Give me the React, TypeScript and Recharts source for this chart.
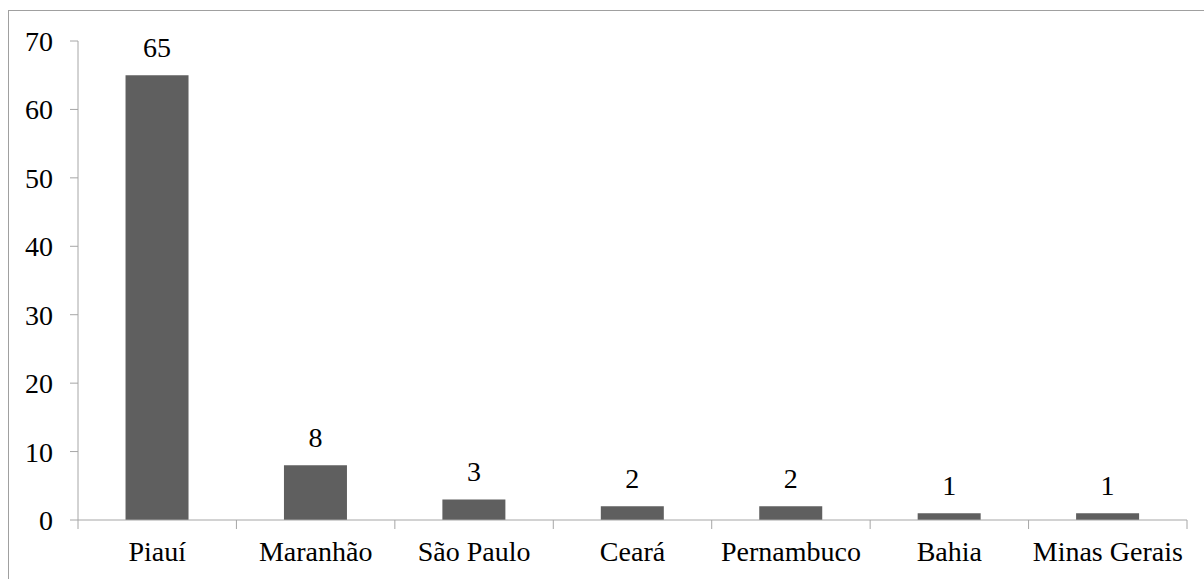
import React from "react";
import { BarChart, Bar, XAxis, YAxis, LabelList } from "recharts";

const estados = ["Piauí", "Maranhão", "São Paulo", "Ceará", "Pernambuco", "Bahia", "Minas Gerais"];
const quantidade = [65, 8, 3, 2, 2, 1, 1];
const yTicks = [0, 10, 20, 30, 40, 50, 60, 70];

const data = estados.map((nome, i) => ({ nome, valor: quantidade[i] }));

const W = 1204;
const H = 579;
const margin = { top: 41, right: 17, left: 0, bottom: 29 };
const yAxisWidth = 78;
const font = "Liberation Serif";
const fontSize = 28;
const axisColor = "#a6a6a6";

// x-axis tick: label at center, tick marks on the category edges (Excel style)
function EdgeTick(props: any) {
  const { x, y, payload, index } = props;
  const band = (W - margin.left - margin.right - yAxisWidth) / estados.length;
  const axisY = y - 22;
  return (
    <g>
      <line x1={x - band / 2} x2={x - band / 2} y1={axisY} y2={axisY + 9} stroke={axisColor} />
      {index === estados.length - 1 && (
        <line x1={x + band / 2} x2={x + band / 2} y1={axisY} y2={axisY + 9} stroke={axisColor} />
      )}
      <text x={x} y={y + 19} textAnchor="middle" style={{ fontFamily: font, fontSize }} fill="#000">
        {payload.value}
      </text>
    </g>
  );
}

export default function App() {
  return (
    <div style={{ position: "absolute", left: 0, top: 0, width: W, height: H, background: "#fff", overflow: "hidden", fontFamily: font }}>
      <div
        style={{
          position: "absolute",
          left: 8,
          top: 10,
          width: 1300,
          height: 700,
          border: "1px solid #a0a0a0",
        }}
      />
      <BarChart
        width={W}
        height={H}
        data={data}
        margin={margin}
        barCategoryGap="30%"
        style={{ position: "absolute", left: 0, top: 0, fontFamily: font }}
      >
        <XAxis
          dataKey="nome"
          axisLine={{ stroke: axisColor }}
          tickLine={false}
          tickSize={8}
          tickMargin={14}
          height={30}
          interval={0}
          tick={<EdgeTick />}
        />
        <YAxis
          width={yAxisWidth}
          domain={[0, 70]}
          ticks={yTicks}
          interval={0}
          axisLine={{ stroke: axisColor }}
          tickLine={{ stroke: axisColor }}
          tickSize={8}
          tickMargin={17}
          tick={{ fontFamily: font, fontSize, fill: "#000" }}
        />
        <Bar dataKey="valor" fill="#5f5f5f" isAnimationActive={false}>
          <LabelList
            dataKey="valor"
            position="top"
            offset={18}
            style={{ fontFamily: font, fontSize, fill: "#000" }}
          />
        </Bar>
      </BarChart>
    </div>
  );
}
